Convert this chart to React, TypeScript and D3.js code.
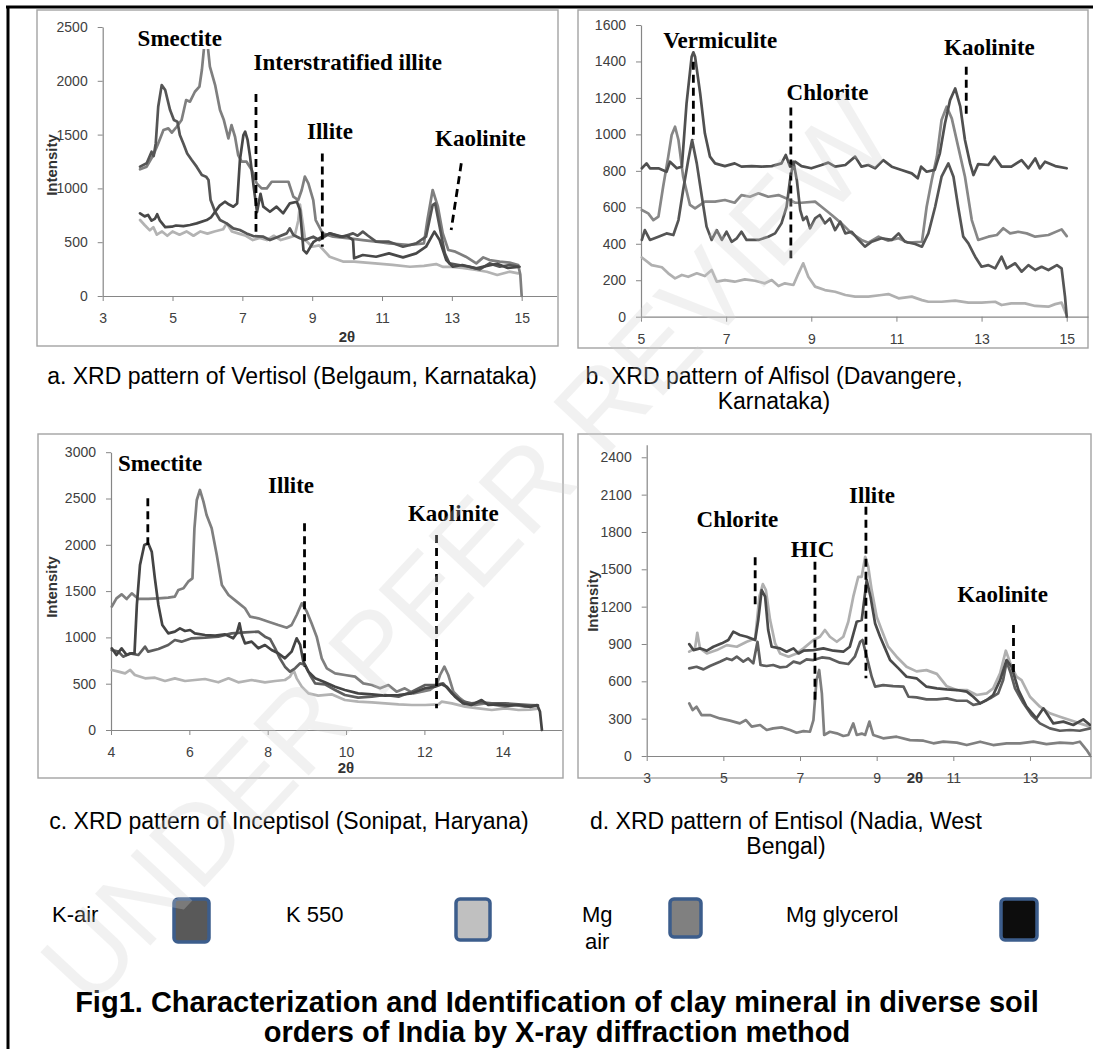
import React, { useEffect, useRef } from 'react'
import * as d3 from 'd3'

type Pt = [number, number]

// a. Vertisol (Belgaum, Karnataka)
const vertisolMgAir: Pt[] = [
  [4.07, 1177], [4.26, 1202], [4.45, 1310], [4.59, 1418], [4.74, 1542], [4.88, 1558], [4.98, 1518], [5.12, 1573],
  [5.26, 1635], [5.39, 1821], [5.5, 1806], [5.64, 1898], [5.77, 1945], [5.84, 2100], [5.9, 2300], [5.95, 2380],
  [6.0, 2350], [6.07, 2131], [6.22, 1960], [6.36, 1728], [6.47, 1635], [6.6, 1465], [6.69, 1589], [6.79, 1480],
  [6.88, 1310], [6.98, 1248], [7.12, 1248], [7.27, 1171], [7.41, 1047], [7.55, 1000], [7.7, 1000], [7.84, 1062],
  [8.08, 1062], [8.32, 1062], [8.46, 923], [8.6, 892], [8.7, 985], [8.79, 1109], [8.89, 1047], [9.03, 892],
  [9.1, 706], [9.3, 582], [9.6, 551], [10.07, 536], [10.45, 520], [10.83, 505], [11.2, 489], [11.8, 474],
  [12.2, 489], [12.3, 706], [12.45, 985], [12.6, 830], [12.74, 582], [12.9, 427], [13.1, 412], [13.4, 365],
  [13.7, 303], [13.9, 359], [14.08, 334], [14.37, 319], [14.65, 310], [14.9, 288], [14.96, 200], [15.0, 0]
]
const vertisolKair: Pt[] = [
  [4.07, 1202], [4.26, 1233], [4.4, 1341], [4.46, 1300], [4.52, 1420], [4.59, 1759], [4.69, 1960], [4.79, 1914],
  [4.93, 1728], [5.04, 1635], [5.14, 1620], [5.21, 1496], [5.31, 1418], [5.42, 1325], [5.55, 1264], [5.69, 1202],
  [5.84, 1124], [5.96, 1109], [6.03, 1078], [6.09, 892], [6.22, 783], [6.36, 706], [6.55, 675], [6.74, 629],
  [6.93, 613], [7.12, 582], [7.31, 557], [7.6, 551], [7.79, 520], [8.03, 551], [8.27, 582], [8.36, 629],
  [8.46, 567], [8.65, 536], [8.79, 520], [9.03, 551], [9.2, 520], [9.5, 582], [9.88, 551], [10.17, 582],
  [10.3, 560], [10.45, 598], [10.6, 560], [10.83, 505], [11.2, 505], [11.6, 458], [11.98, 489], [12.26, 551],
  [12.45, 845], [12.52, 861], [12.65, 644], [12.8, 396], [12.93, 303], [13.2, 288], [13.5, 272], [13.8, 248],
  [14.08, 303], [14.37, 272], [14.65, 288], [14.94, 272]
]
const vertisolMgGly: Pt[] = [
  [4.07, 768], [4.2, 740], [4.3, 753], [4.4, 700], [4.5, 720], [4.56, 760], [4.64, 700], [4.79, 640],
  [4.98, 644], [5.1, 655], [5.31, 650], [5.5, 660], [5.69, 675], [5.98, 706], [6.1, 730], [6.22, 783],
  [6.35, 840], [6.5, 876], [6.62, 850], [6.74, 830], [6.85, 860], [6.93, 1264], [7.03, 1496], [7.08, 1527],
  [7.15, 1450], [7.22, 1295], [7.33, 1000], [7.42, 780], [7.52, 950], [7.6, 830], [7.79, 783], [7.98, 830],
  [8.17, 768], [8.36, 861], [8.56, 876], [8.65, 800], [8.75, 427], [8.84, 396], [9.03, 500], [9.2, 536],
  [9.5, 582], [9.8, 551], [10.0, 560], [10.17, 520], [10.2, 350], [10.45, 381], [10.83, 365], [11.2, 396],
  [11.6, 359], [11.98, 396], [12.26, 458], [12.5, 598], [12.65, 520], [12.84, 334], [13.03, 272], [13.3, 288],
  [13.7, 257], [14.0, 280], [14.3, 300], [14.6, 260], [14.9, 270]
]
const vertisolK550: Pt[] = [
  [4.07, 706], [4.2, 660], [4.35, 610], [4.45, 640], [4.55, 570], [4.7, 600], [4.85, 560], [5.0, 600],
  [5.2, 570], [5.4, 600], [5.6, 560], [5.8, 600], [6.0, 580], [6.2, 600], [6.45, 620], [6.55, 675],
  [6.7, 600], [6.9, 580], [7.1, 560], [7.3, 520], [7.5, 540], [7.7, 520], [7.9, 560], [8.1, 520],
  [8.3, 540], [8.5, 560], [8.6, 700], [8.65, 850], [8.72, 700], [8.8, 520], [9.0, 458], [9.2, 470],
  [9.5, 365], [9.9, 319], [10.2, 320], [10.8, 303], [11.3, 290], [11.8, 272], [12.2, 280], [12.55, 297],
  [12.75, 270], [12.93, 272], [13.3, 260], [13.7, 242], [14.0, 225], [14.3, 195], [14.65, 226], [14.9, 210]
]
const vertisolXTicks = [3, 5, 7, 9, 11, 13, 15]
const vertisolYTicks = [0, 500, 1000, 1500, 2000, 2500]
const vertisolNames = [
  { text: 'Smectite', x: 4.0, v: 2323 },
  { text: 'Interstratified illite', x: 7.32, v: 2100 },
  { text: 'Illite', x: 8.85, v: 1459 },
  { text: 'Kaolinite', x: 12.52, v: 1394 }
]
const vertisolMarks = [
  { x1: 7.39, v1: 1877, x2: 7.39, v2: 598 },
  { x1: 9.29, v1: 1325, x2: 9.29, v2: 458 },
  { x1: 13.27, v1: 1233, x2: 12.98, v2: 613 }
]

// b. Alfisol (Davangere, Karnataka)
const alfisolMgGly: Pt[] = [
  [5.02, 814], [5.13, 841], [5.21, 814], [5.41, 814], [5.6, 795], [5.68, 850], [5.84, 814], [5.96, 823],
  [6.07, 1170], [6.19, 1426], [6.23, 1450], [6.27, 1426], [6.39, 1225], [6.5, 1006], [6.62, 878], [6.74, 841],
  [6.97, 826], [7.2, 841], [7.36, 823], [7.6, 826], [7.83, 823], [8.07, 826], [8.3, 841], [8.4, 887],
  [8.5, 823], [8.62, 850], [8.77, 826], [9.0, 814], [9.24, 832], [9.4, 845], [9.56, 823], [9.8, 832],
  [10.03, 878], [10.18, 823], [10.34, 832], [10.5, 814], [10.69, 859], [10.89, 823], [11.12, 805], [11.36, 786],
  [11.5, 759], [11.58, 823], [11.71, 795], [11.9, 805], [12.02, 896], [12.14, 1060], [12.26, 1188], [12.38, 1252],
  [12.5, 1152], [12.61, 969], [12.73, 841], [12.81, 777], [12.92, 837], [13.16, 832], [13.3, 878], [13.47, 823],
  [13.7, 823], [13.94, 859], [14.1, 814], [14.26, 868], [14.37, 814], [14.49, 850], [14.73, 826], [15.0, 814]
]
const alfisolMgAir: Pt[] = [
  [5.02, 585], [5.17, 567], [5.29, 530], [5.41, 549], [5.52, 713], [5.64, 878], [5.72, 997], [5.8, 1042],
  [5.88, 969], [5.99, 768], [6.15, 613], [6.27, 594], [6.5, 631], [6.74, 631], [6.97, 640], [7.2, 625],
  [7.36, 667], [7.56, 658], [7.76, 677], [7.99, 658], [8.23, 667], [8.42, 649], [8.62, 625], [8.77, 625],
  [9.09, 631], [9.24, 603], [9.48, 558], [9.71, 512], [9.95, 457], [10.18, 421], [10.34, 406], [10.58, 439],
  [10.81, 417], [11.05, 430], [11.28, 406], [11.6, 411], [11.71, 603], [11.83, 750], [11.95, 878], [12.06, 1079],
  [12.18, 1152], [12.3, 1088], [12.45, 933], [12.61, 768], [12.77, 530], [12.92, 421], [13.16, 439], [13.36, 448],
  [13.51, 485], [13.67, 457], [13.86, 466], [14.06, 457], [14.26, 439], [14.57, 448], [14.88, 479], [15.0, 442]
]
const alfisolKair: Pt[] = [
  [5.02, 421], [5.09, 475], [5.21, 421], [5.41, 439], [5.6, 457], [5.76, 448], [5.88, 530], [5.99, 695],
  [6.11, 859], [6.2, 969], [6.31, 841], [6.43, 658], [6.54, 494], [6.66, 421], [6.78, 475], [6.9, 421],
  [7.01, 466], [7.13, 411], [7.25, 430], [7.36, 466], [7.48, 421], [7.76, 421], [7.99, 439], [8.15, 457],
  [8.3, 512], [8.42, 603], [8.5, 750], [8.58, 850], [8.66, 750], [8.74, 585], [8.81, 530], [8.89, 549],
  [8.97, 485], [9.09, 539], [9.2, 558], [9.32, 512], [9.44, 539], [9.56, 475], [9.68, 521], [9.8, 457],
  [9.95, 466], [10.11, 421], [10.26, 384], [10.42, 411], [10.65, 430], [10.89, 421], [11.05, 457], [11.2, 411],
  [11.44, 399], [11.6, 384], [11.75, 457], [11.91, 603], [12.06, 768], [12.22, 841], [12.34, 768], [12.45, 603],
  [12.57, 439], [12.69, 402], [12.85, 329], [13.0, 274], [13.16, 283], [13.32, 265], [13.47, 329], [13.59, 265],
  [13.79, 293], [13.94, 247], [14.1, 283], [14.26, 256], [14.41, 274], [14.57, 256], [14.77, 283], [14.88, 265],
  [14.96, 110], [15.0, 0]
]
const alfisolK550: Pt[] = [
  [5.02, 325], [5.25, 283], [5.49, 271], [5.64, 238], [5.8, 210], [5.96, 229], [6.11, 219], [6.31, 238],
  [6.5, 223], [6.66, 256], [6.78, 192], [6.97, 201], [7.2, 192], [7.44, 205], [7.68, 197], [7.91, 183],
  [8.07, 201], [8.23, 168], [8.38, 183], [8.58, 174], [8.7, 238], [8.81, 293], [8.93, 219], [9.09, 165],
  [9.32, 146], [9.56, 137], [9.8, 119], [10.03, 110], [10.34, 110], [10.65, 119], [10.81, 124], [11.05, 101],
  [11.36, 110], [11.6, 91], [11.75, 82], [12.06, 82], [12.38, 88], [12.69, 77], [13.0, 77], [13.32, 82],
  [13.47, 64], [13.7, 73], [14.02, 73], [14.26, 59], [14.57, 55], [14.73, 69], [14.88, 77], [14.98, 18]
]
const alfisolXTicks = [5, 7, 9, 11, 13, 15]
const alfisolYTicks = [0, 200, 400, 600, 800, 1000, 1200, 1400, 1600]
const alfisolNames = [
  { text: 'Vermiculite', x: 5.52, v: 1474 },
  { text: 'Chlorite', x: 8.42, v: 1189 },
  { text: 'Kaolinite', x: 12.12, v: 1435 }
]
const alfisolMarks = [
  { x1: 6.23, v1: 1399, x2: 6.23, v2: 969 },
  { x1: 8.52, v1: 1148, x2: 8.52, v2: 320 },
  { x1: 12.64, v1: 1371, x2: 12.64, v2: 1106 }
]

// c. Inceptisol (Sonipat, Haryana)
const inceptisolMgAir: Pt[] = [
  [4.02, 1332], [4.14, 1422], [4.27, 1465], [4.4, 1415], [4.53, 1476], [4.7, 1415], [4.95, 1415], [5.21, 1422],
  [5.46, 1429], [5.63, 1440], [5.72, 1512], [5.85, 1530], [5.97, 1602], [6.08, 1638], [6.13, 2178], [6.19, 2484],
  [6.27, 2592], [6.36, 2466], [6.44, 2322], [6.57, 2178], [6.7, 1890], [6.83, 1566], [7.0, 1458], [7.21, 1386],
  [7.42, 1314], [7.55, 1224], [7.76, 1206], [8.02, 1170], [8.27, 1134], [8.49, 1105], [8.61, 1134], [8.74, 1242],
  [8.87, 1368], [9.0, 1278], [9.12, 1152], [9.25, 1008], [9.38, 774], [9.51, 666], [9.72, 612], [9.97, 594],
  [10.23, 576], [10.44, 504], [10.66, 486], [10.87, 450], [11.08, 486], [11.29, 414], [11.5, 450], [11.72, 396],
  [11.93, 414], [12.14, 432], [12.31, 486], [12.4, 594], [12.51, 684], [12.61, 594], [12.74, 414], [12.91, 342],
  [13.08, 288], [13.29, 270], [13.55, 288], [13.8, 270], [14.06, 252], [14.31, 270], [14.57, 252], [14.85, 260]
]
const inceptisolKair: Pt[] = [
  [4.02, 882], [4.14, 810], [4.27, 882], [4.4, 810], [4.53, 828], [4.6, 828], [4.66, 1350], [4.74, 1782],
  [4.85, 1998], [4.95, 2016], [5.04, 1926], [5.12, 1638], [5.21, 1350], [5.31, 1134], [5.46, 1044], [5.63, 1062],
  [5.76, 1098], [5.89, 1069], [6.02, 1080], [6.14, 1044], [6.4, 1026], [6.66, 1019], [6.91, 1033], [7.12, 990],
  [7.21, 1044], [7.28, 1152], [7.34, 1026], [7.42, 936], [7.59, 954], [7.76, 882], [7.93, 918], [8.1, 864],
  [8.27, 828], [8.44, 774], [8.61, 846], [8.74, 990], [8.83, 918], [8.91, 738], [9.04, 630], [9.21, 558],
  [9.46, 515], [9.72, 468], [9.97, 432], [10.31, 396], [10.66, 385], [11.0, 371], [11.34, 378], [11.68, 396],
  [12.02, 450], [12.27, 468], [12.44, 493], [12.57, 468], [12.78, 360], [12.99, 288], [13.2, 270], [13.46, 324],
  [13.63, 270], [13.89, 277], [14.14, 263], [14.4, 270], [14.7, 250], [14.88, 270], [14.95, 200], [15.0, 0]
]
const inceptisolMgGly: Pt[] = [
  [4.02, 864], [4.19, 846], [4.31, 792], [4.49, 828], [4.7, 810], [4.87, 900], [4.95, 846], [5.21, 875],
  [5.46, 918], [5.63, 972], [5.8, 954], [6.06, 990], [6.4, 997], [6.74, 1008], [7.08, 1044], [7.42, 1055],
  [7.76, 1062], [7.93, 1008], [8.06, 983], [8.19, 882], [8.31, 774], [8.44, 684], [8.57, 630], [8.7, 666],
  [8.83, 720], [8.95, 702], [9.08, 594], [9.21, 504], [9.46, 493], [9.72, 432], [9.97, 378], [10.31, 349],
  [10.66, 360], [11.0, 378], [11.34, 360], [11.68, 414], [12.02, 486], [12.27, 486], [12.48, 504], [12.7, 396],
  [12.95, 313], [13.2, 288], [13.46, 300], [13.72, 288], [14.06, 288], [14.4, 278], [14.7, 270], [14.9, 265]
]
const inceptisolK550: Pt[] = [
  [4.02, 648], [4.19, 630], [4.36, 612], [4.49, 648], [4.61, 594], [4.87, 558], [5.12, 565], [5.38, 529],
  [5.63, 558], [5.89, 529], [6.14, 540], [6.4, 551], [6.74, 515], [7.0, 558], [7.25, 515], [7.59, 540],
  [7.93, 515], [8.19, 529], [8.44, 540], [8.57, 576], [8.66, 648], [8.74, 558], [8.87, 468], [9.04, 396],
  [9.29, 371], [9.63, 385], [9.97, 324], [10.31, 306], [10.66, 299], [11.0, 288], [11.34, 277], [11.68, 270],
  [12.02, 270], [12.36, 277], [12.44, 306], [12.7, 288], [13.04, 252], [13.38, 234], [13.72, 216], [14.06, 234],
  [14.4, 216], [14.7, 220], [14.9, 230]
]
const inceptisolXTicks = [4, 6, 8, 10, 12, 14]
const inceptisolYTicks = [0, 500, 1000, 1500, 2000, 2500, 3000]
const inceptisolNames = [
  { text: 'Smectite', x: 4.18, v: 2797 },
  { text: 'Illite', x: 8.01, v: 2559 },
  { text: 'Kaolinite', x: 11.58, v: 2257 }
]
const inceptisolMarks = [
  { x1: 4.94, v1: 2502, x2: 4.94, v2: 1998 },
  { x1: 8.94, v1: 2232, x2: 8.94, v2: 684 },
  { x1: 12.31, v1: 2106, x2: 12.31, v2: 234 }
]

// d. Entisol (Nadia, West Bengal)
const entisolK550: Pt[] = [
  [4.11, 838], [4.26, 865], [4.32, 990], [4.39, 865], [4.57, 824], [4.83, 851], [5.09, 891], [5.35, 878],
  [5.61, 918], [5.83, 945], [5.94, 1280], [6.03, 1381], [6.11, 1333], [6.22, 1092], [6.35, 905], [6.48, 824],
  [6.7, 798], [6.91, 824], [7.09, 865], [7.35, 932], [7.52, 958], [7.65, 1012], [7.78, 958], [7.96, 918],
  [8.13, 958], [8.26, 1079], [8.39, 1280], [8.52, 1440], [8.61, 1440], [8.7, 1601], [8.78, 1521], [8.87, 1333],
  [9.0, 1119], [9.13, 1012], [9.3, 878], [9.52, 798], [9.78, 717], [10.04, 680], [10.3, 690], [10.57, 660],
  [10.83, 560], [11.09, 530], [11.35, 530], [11.61, 490], [11.87, 503], [12.04, 543], [12.22, 664], [12.37, 846],
  [12.52, 717], [12.65, 637], [12.78, 610], [13.0, 476], [13.26, 396], [13.52, 343], [13.78, 316], [14.04, 289],
  [14.3, 262], [14.57, 236]
]
const entisolKair: Pt[] = [
  [4.11, 899], [4.22, 851], [4.39, 865], [4.57, 846], [4.74, 878], [4.96, 905], [5.13, 932], [5.26, 999],
  [5.43, 972], [5.61, 958], [5.83, 932], [5.91, 1092], [6.0, 1333], [6.09, 1280], [6.17, 1012], [6.26, 878],
  [6.48, 865], [6.65, 838], [6.83, 865], [6.96, 824], [7.09, 846], [7.35, 851], [7.61, 865], [7.87, 846],
  [8.13, 838], [8.3, 878], [8.48, 1079], [8.61, 1092], [8.74, 1413], [8.84, 1280], [8.96, 1065], [9.09, 958],
  [9.22, 865], [9.35, 771], [9.57, 704], [9.78, 637], [10.04, 624], [10.3, 557], [10.57, 543], [10.83, 535],
  [11.09, 530], [11.35, 517], [11.52, 476], [11.7, 423], [11.87, 450], [12.04, 490], [12.22, 610], [12.39, 771],
  [12.52, 717], [12.7, 530], [12.91, 396], [13.17, 303], [13.35, 383], [13.61, 262], [13.87, 276], [14.13, 249],
  [14.39, 294], [14.57, 249]
]
const entisolMgAir: Pt[] = [
  [4.11, 704], [4.3, 717], [4.48, 696], [4.65, 723], [4.91, 758], [5.09, 784], [5.22, 771], [5.35, 798],
  [5.52, 758], [5.65, 784], [5.78, 744], [5.89, 918], [5.97, 731], [6.13, 723], [6.3, 731], [6.48, 712],
  [6.65, 717], [6.83, 758], [7.0, 744], [7.17, 776], [7.35, 771], [7.57, 792], [7.78, 784], [8.04, 750],
  [8.26, 739], [8.43, 798], [8.57, 918], [8.63, 932], [8.74, 798], [8.87, 637], [8.96, 557], [9.17, 570],
  [9.43, 562], [9.7, 557], [9.83, 476], [10.04, 471], [10.3, 455], [10.57, 455], [10.83, 463], [11.09, 444],
  [11.35, 444], [11.52, 410], [11.7, 423], [11.96, 463], [12.17, 503], [12.3, 610], [12.39, 758], [12.5, 664],
  [12.61, 543], [12.83, 423], [13.04, 329], [13.26, 262], [13.52, 222], [13.78, 203], [14.04, 209], [14.3, 203],
  [14.57, 222]
]
const entisolMgGly: Pt[] = [
  [4.11, 423], [4.2, 369], [4.3, 396], [4.43, 329], [4.65, 329], [4.91, 302], [5.17, 284], [5.43, 262],
  [5.59, 289], [5.74, 236], [5.96, 249], [6.13, 209], [6.3, 222], [6.52, 230], [6.74, 209], [6.91, 187],
  [7.09, 200], [7.26, 195], [7.35, 289], [7.43, 610], [7.5, 691], [7.57, 503], [7.63, 169], [7.78, 195],
  [7.96, 182], [8.13, 161], [8.26, 169], [8.39, 262], [8.48, 169], [8.61, 180], [8.7, 169], [8.81, 276],
  [8.91, 169], [9.17, 142], [9.52, 155], [9.87, 128], [10.22, 123], [10.48, 102], [10.74, 115], [11.09, 107],
  [11.35, 88], [11.7, 115], [12.04, 88], [12.39, 102], [12.74, 102], [13.09, 115], [13.43, 96], [13.78, 107],
  [14.13, 102], [14.3, 115], [14.48, 48], [14.58, 0]
]
const entisolXTicks = [3, 5, 7, 9, 11, 13]
const entisolYTicks = [0, 300, 600, 900, 1200, 1500, 1800, 2100, 2400]
const entisolNames = [
  { text: 'Chlorite', x: 4.3, v: 1839 },
  { text: 'HIC', x: 6.76, v: 1601 },
  { text: 'Illite', x: 8.28, v: 2035 },
  { text: 'Kaolinite', x: 11.1, v: 1239 }
]
const entisolMarks = [
  { x1: 5.83, v1: 1596, x2: 5.83, v2: 1213 },
  { x1: 7.39, v1: 1561, x2: 7.39, v2: 450 },
  { x1: 8.72, v1: 2002, x2: 8.72, v2: 624 },
  { x1: 12.57, v1: 1052, x2: 12.57, v2: 664 }
]

const legendNames = ['K-air', 'K 550', 'Mg air', 'Mg glycerol']
const legendFills = ['#595959', '#c0c0c0', '#808080', '#0d0d0d']

const W = 1093
const H = 1049
const SANS = "'Liberation Sans', Arial, sans-serif"
const SERIF = "'Liberation Serif', 'Times New Roman', serif"

const panels = [
  {
    id: 'a', box: [37, 10, 521, 336], xDomain: [3, 16], xRange: [102.7, 556.6], yDomain: [0, 2500], yRange: [296, 27],
    xTicks: vertisolXTicks, yTicks: vertisolYTicks, names: vertisolNames, marks: vertisolMarks, masked: ['Smectite'],
    yTitle: [52, 165], xTitle: [347, 342],
    series: [
      { data: vertisolK550, color: '#b3b3b3' },
      { data: vertisolMgAir, color: '#7f7f7f' },
      { data: vertisolKair, color: '#555555' },
      { data: vertisolMgGly, color: '#484848' }
    ]
  },
  {
    id: 'b', box: [578, 10, 510, 338], xDomain: [5, 15.5], xRange: [641, 1088], yDomain: [0, 1600], yRange: [316.7, 25],
    xTicks: alfisolXTicks, yTicks: alfisolYTicks, names: alfisolNames, marks: alfisolMarks, masked: [],
    yTitle: null, xTitle: null,
    series: [
      { data: alfisolK550, color: '#b0b0b0' },
      { data: alfisolMgAir, color: '#878787' },
      { data: alfisolKair, color: '#555555' },
      { data: alfisolMgGly, color: '#505050' }
    ]
  },
  {
    id: 'c', box: [38, 434, 525, 344], xDomain: [4, 15.5], xRange: [111, 561.5], yDomain: [0, 3000], yRange: [730, 452.2],
    xTicks: inceptisolXTicks, yTicks: inceptisolYTicks, names: inceptisolNames, marks: inceptisolMarks, masked: [],
    yTitle: [52, 587], xTitle: [346, 773],
    series: [
      { data: inceptisolK550, color: '#b3b3b3' },
      { data: inceptisolMgAir, color: '#7f7f7f' },
      { data: inceptisolMgGly, color: '#5e5e5e' },
      { data: inceptisolKair, color: '#444444' }
    ]
  },
  {
    id: 'd', box: [578, 434, 513, 344], xDomain: [3, 14.6], xRange: [646.7, 1091.3], yDomain: [0, 2500], yRange: [756, 444.85],
    xTicks: entisolXTicks, yTicks: entisolYTicks, names: entisolNames, marks: entisolMarks, masked: [],
    yTitle: [593, 601], xTitle: [915, 783],
    series: [
      { data: entisolMgGly, color: '#808080' },
      { data: entisolK550, color: '#b0b0b0' },
      { data: entisolMgAir, color: '#5e5e5e' },
      { data: entisolKair, color: '#4a4a4a' }
    ]
  }
]

const captions = [
  { lines: ['a. XRD pattern of Vertisol (Belgaum, Karnataka)'], cx: 292, y: 384 },
  { lines: ['b. XRD pattern of Alfisol (Davangere,', 'Karnataka)'], cx: 774, y: 384 },
  { lines: ['c. XRD pattern of Inceptisol (Sonipat, Haryana)'], cx: 289, y: 829 },
  { lines: ['d. XRD pattern of Entisol (Nadia, West', 'Bengal)'], cx: 786, y: 829 }
]

const App = () => {
  const ref = useRef<SVGSVGElement | null>(null)

  useEffect(() => {
    const svg = d3.select(ref.current)
    svg.selectAll('*').remove()

    svg.append('rect').attr('width', W).attr('height', H).attr('fill', '#fff')

    // outer frame (top and left edge)
    svg.append('line').attr('x1', 6).attr('y1', 7).attr('x2', W).attr('y2', 7).attr('stroke', '#000').attr('stroke-width', 3)
    svg.append('line').attr('x1', 8).attr('y1', 6).attr('x2', 8).attr('y2', H).attr('stroke', '#000').attr('stroke-width', 3)

    panels.forEach(p => {
      const [bx, by, bw, bh] = p.box
      const g = svg.append('g')
      g.append('rect').attr('x', bx).attr('y', by).attr('width', bw).attr('height', bh)
        .attr('fill', 'none').attr('stroke', '#a3a3a3').attr('stroke-width', 1.4)

      const x = d3.scaleLinear().domain(p.xDomain).range(p.xRange)
      const y = d3.scaleLinear().domain(p.yDomain).range(p.yRange)

      // axes
      const xa = g.append('g').attr('transform', `translate(0,${p.yRange[0]})`)
        .call(d3.axisBottom(x).tickValues(p.xTicks).tickFormat(d3.format('d')).tickSize(5).tickSizeOuter(0).tickPadding(12))
      const ya = g.append('g').attr('transform', `translate(${p.xRange[0]},0)`)
        .call(d3.axisLeft(y).tickValues(p.yTicks).tickFormat(d3.format('d')).tickSize(5).tickSizeOuter(0).tickPadding(10))
      ;[xa, ya].forEach(a => {
        a.attr('font-family', SANS).attr('font-size', 14)
        a.select('.domain').attr('stroke', '#868686').attr('stroke-width', 1.2)
        a.selectAll('.tick line').attr('stroke', '#868686')
        a.selectAll('.tick text').attr('fill', '#404040')
      })

      if (p.yTitle) {
        g.append('text').attr('transform', `translate(${p.yTitle[0]},${p.yTitle[1]}) rotate(-90)`)
          .attr('text-anchor', 'middle').attr('dy', '0.35em')
          .attr('font-family', SANS).attr('font-size', 15).attr('font-weight', 'bold').attr('fill', '#333')
          .text('Intensity')
      }
      if (p.xTitle) {
        g.append('text').attr('x', p.xTitle[0]).attr('y', p.xTitle[1]).attr('text-anchor', 'middle')
          .attr('font-family', SANS).attr('font-size', 15).attr('font-weight', 'bold').attr('fill', '#333')
          .text('2θ')
      }

      // lines
      const clipId = `clip-${p.id}`
      svg.append('clipPath').attr('id', clipId).append('rect')
        .attr('x', bx).attr('y', by).attr('width', bw).attr('height', bh)
      const lg = g.append('g').attr('clip-path', `url(#${clipId})`)
      const line = d3.line<Pt>().x(d => x(d[0])).y(d => y(d[1]))
      p.series.forEach(s => {
        lg.append('path').datum(s.data).attr('d', line)
          .attr('fill', 'none').attr('stroke', s.color).attr('stroke-width', 2.7)
          .attr('stroke-linejoin', 'round').attr('stroke-linecap', 'round')
      })

      // dashed mineral markers
      p.marks.forEach(m => {
        g.append('line').attr('x1', x(m.x1)).attr('y1', y(m.v1)).attr('x2', x(m.x2)).attr('y2', y(m.v2))
          .attr('stroke', '#000').attr('stroke-width', 2.8).attr('stroke-dasharray', '8,5')
      })

      // mineral names
      p.names.forEach(n => {
        const t = g.append('text').attr('x', x(n.x)).attr('y', y(n.v))
          .attr('font-family', SERIF).attr('font-size', 23).attr('font-weight', 'bold').attr('fill', '#000')
          .text(n.text)
        if (p.masked.includes(n.text)) {
          const bb = (t.node() as SVGTextElement).getBBox()
          g.insert('rect', () => t.node() as any)
            .attr('x', bb.x - 1).attr('y', bb.y + 2).attr('width', bb.width + 2).attr('height', bb.height - 4)
            .attr('fill', '#fff')
        }
      })
    })

    // captions
    captions.forEach(c => {
      c.lines.forEach((l, i) => {
        svg.append('text').attr('x', c.cx).attr('y', c.y + i * 25).attr('text-anchor', 'middle')
          .attr('font-family', SANS).attr('font-size', 23).attr('fill', '#000').text(l)
      })
    })

    // legend
    const legendText = [52, 286, 582, 786]
    const legendBoxes = [[174, 35, 43], [456, 34, 41], [670, 31, 38], [1001, 36, 41]]
    legendNames.forEach((name, i) => {
      const words = name === 'Mg air' ? ['Mg', 'air'] : [name]
      words.forEach((w, j) => {
        svg.append('text').attr('x', legendText[i] + (j ? 3 : 0)).attr('y', 922 + j * 27)
          .attr('font-family', SANS).attr('font-size', 22).attr('fill', '#000').text(w)
      })
      const [lx, lw, lh] = legendBoxes[i]
      svg.append('rect').attr('x', lx).attr('y', 899).attr('width', lw).attr('height', lh).attr('rx', 4)
        .attr('fill', legendFills[i]).attr('stroke', '#3c5d8c').attr('stroke-width', 3.5)
    })

    // figure title
    const title = ['Fig1. Characterization and Identification of clay mineral in diverse soil',
      'orders of India by X-ray diffraction method']
    title.forEach((t, i) => {
      svg.append('text').attr('x', 557).attr('y', 1012 + i * 30).attr('text-anchor', 'middle')
        .attr('font-family', SANS).attr('font-size', 29).attr('font-weight', 'bold').attr('fill', '#000').text(t)
    })

    // faint review watermark
    svg.append('text').attr('transform', 'translate(90,1010) rotate(-47)')
      .attr('font-family', SANS).attr('font-size', 110).attr('fill', '#d0d0d0').attr('opacity', 0.28)
      .text('UNDER PEER REVIEW')
  }, [])

  return (
    <svg ref={ref} width={W} height={H} style={{ position: 'absolute', left: 0, top: 0 }} />
  )
}

export default App
